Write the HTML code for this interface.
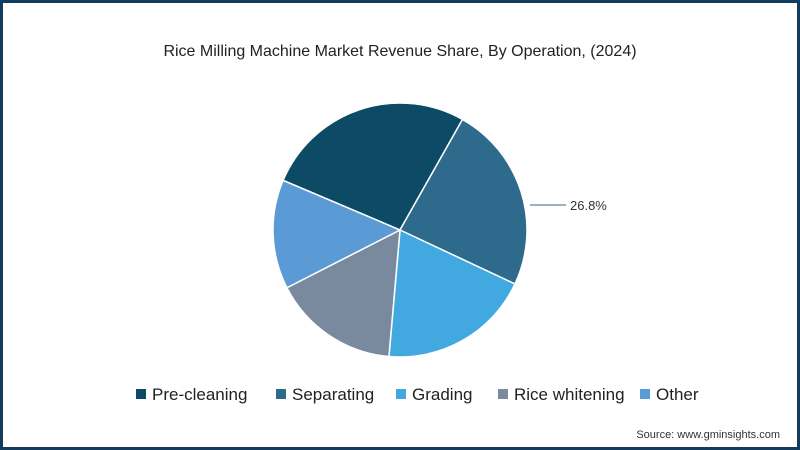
<!DOCTYPE html>
<html><head><meta charset="utf-8"><style>
html,body{margin:0;padding:0;}
body{width:800px;height:450px;overflow:hidden;background:#fff;font-family:"Liberation Sans",sans-serif;}
#frame{position:absolute;left:0;top:0;width:794px;height:444px;border:3px solid #143a5c;}
</style></head><body>
<div id="frame"></div>
<svg id="chart" width="800" height="450" style="position:absolute;left:0;top:0">
<text x="400" y="56" text-anchor="middle" font-size="16" fill="#222">Rice Milling Machine Market Revenue Share, By Operation, (2024)</text>
<g id="slices"></g>
<line x1="530" y1="205" x2="566" y2="205" stroke="#2e6a8c" stroke-width="1"/>
<text id="lbl" x="570" y="210" font-size="13" fill="#333">26.8%</text>
<g id="legend"></g>
<text x="780" y="438" text-anchor="end" font-size="11" fill="#333">Source: www.gminsights.com</text>
</svg>
<script>
const categories=["Pre-cleaning","Separating","Grading","Rice whitening","Other"];
const values=[26.8,23.8,19.4,16.1,13.9];
const colors=["#0d4a66","#2e6a8c","#41a8e0","#7a8a9e","#5b9bd5"];
const NS="http://www.w3.org/2000/svg";
const cx=400,cy=230,r=127,startDeg=-67;
const total=values.reduce((a,b)=>a+b,0);
const g=document.getElementById('slices');
let a=startDeg;
function pt(deg){const t=deg*Math.PI/180;return [cx+r*Math.sin(t),cy-r*Math.cos(t)];}
values.forEach((v,i)=>{
  const sweep=v/total*360;const p1=pt(a),p2=pt(a+sweep);
  const p=document.createElementNS(NS,'path');
  p.setAttribute('d',`M${cx},${cy}L${p1[0]},${p1[1]}A${r},${r} 0 ${sweep>180?1:0} 1 ${p2[0]},${p2[1]}Z`);
  p.setAttribute('fill',colors[i]);p.setAttribute('stroke','#fff');p.setAttribute('stroke-width','1.5');
  
  
  g.appendChild(p);a+=sweep;
});
document.getElementById('lbl').textContent=values[0].toFixed(1)+'%';
const lg=document.getElementById('legend');
const lx=[136,276,396,498,640];
categories.forEach((c,i)=>{
  const gg=document.createElementNS(NS,'g');
  
  
  const rc=document.createElementNS(NS,'rect');
  rc.setAttribute('x',lx[i]);rc.setAttribute('y',389);rc.setAttribute('width',10);rc.setAttribute('height',10);rc.setAttribute('fill',colors[i]);
  const t=document.createElementNS(NS,'text');
  t.setAttribute('x',lx[i]+16);t.setAttribute('y',400);t.setAttribute('font-size','17');t.setAttribute('fill','#222');t.textContent=c;
  gg.appendChild(rc);gg.appendChild(t);lg.appendChild(gg);
});
</script>
</body></html>
